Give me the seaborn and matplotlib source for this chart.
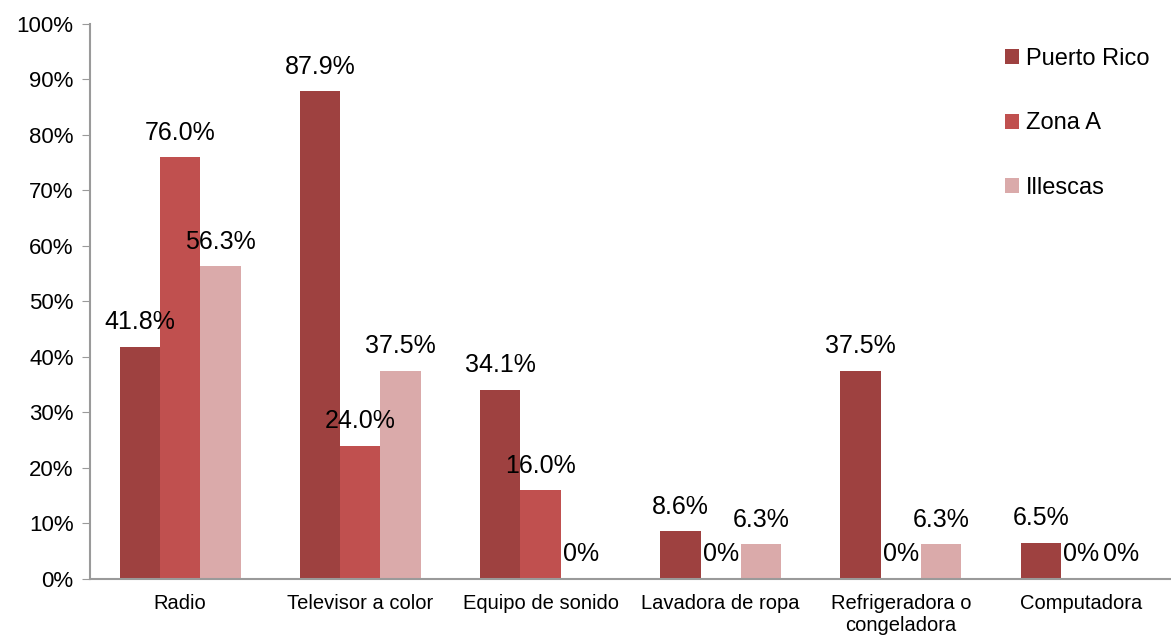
import seaborn as sns
import matplotlib.pyplot as plt
import pandas as pd
import numpy as np

categorias = ["Radio", "Televisor a color", "Equipo de sonido", "Lavadora de ropa",
              "Refrigeradora o\ncongeladora", "Computadora"]
puerto_rico = [41.8, 87.9, 34.1, 8.6, 37.5, 6.5]
zona_a = [76.0, 24.0, 16.0, 0, 0, 0]
illescas = [56.3, 37.5, 0, 6.3, 6.3, 0]
series = ["Puerto Rico", "Zona A", "Illescas"]
colores = ["#9E4140", "#C0504F", "#DAAAAA"]

df = pd.DataFrame({
    "cat": categorias * 3,
    "serie": np.repeat(series, len(categorias)),
    "valor": puerto_rico + zona_a + illescas,
})

sns.set_style("white")
plt.rcParams["font.family"] = ["Liberation Sans", "DejaVu Sans"]
plt.rcParams["text.color"] = "black"
plt.rcParams["xtick.color"] = "black"
plt.rcParams["ytick.color"] = "black"

fig = plt.figure(figsize=(11.71, 6.38), dpi=100)
ax = fig.add_axes([0.077, 0.0925, 0.923, 0.87])

sns.barplot(data=df, x="cat", y="valor", hue="serie", palette=colores,
            width=0.67, ax=ax, saturation=1, edgecolor="none", legend=True)

# etiquetas de datos
for cont in ax.containers:
    etiquetas = [("0%" if v == 0 else f"{v:.1f}%") for v in cont.datavalues]
    ax.bar_label(cont, labels=etiquetas, padding=9, fontsize=18, color="black")

ax.set_ylim(0, 100)
ax.set_xlim(-0.5, len(categorias) - 0.5)
ax.set_yticks(np.arange(0, 101, 10))
ax.set_yticklabels([f"{v}%" for v in range(0, 101, 10)], fontsize=16)
ax.tick_params(axis="x", length=0, labelsize=14.5, pad=11)
ax.set_xticks(np.arange(-0.5, len(categorias), 1), minor=True)
ax.tick_params(axis="x", which="minor", length=5, color="#9a9a9a", direction="out")
ax.tick_params(axis="y", length=6, color="#9a9a9a", direction="out", left=True, pad=6,
               labelcolor="black")
ax.set_xlabel("")
ax.set_ylabel("")

for s in ["top", "right"]:
    ax.spines[s].set_visible(False)
for s in ["left", "bottom"]:
    ax.spines[s].set_color("#9a9a9a")
    ax.spines[s].set_linewidth(1.5)

leg = ax.legend(loc="upper right", bbox_to_anchor=(1.0, 0.995), frameon=False, fontsize=17,
                labelspacing=1.8, handlelength=0.6, handleheight=0.6, handletextpad=0.3)
for t in leg.get_texts():
    t.set_color("black")

fig.savefig("out.png", dpi=100)
